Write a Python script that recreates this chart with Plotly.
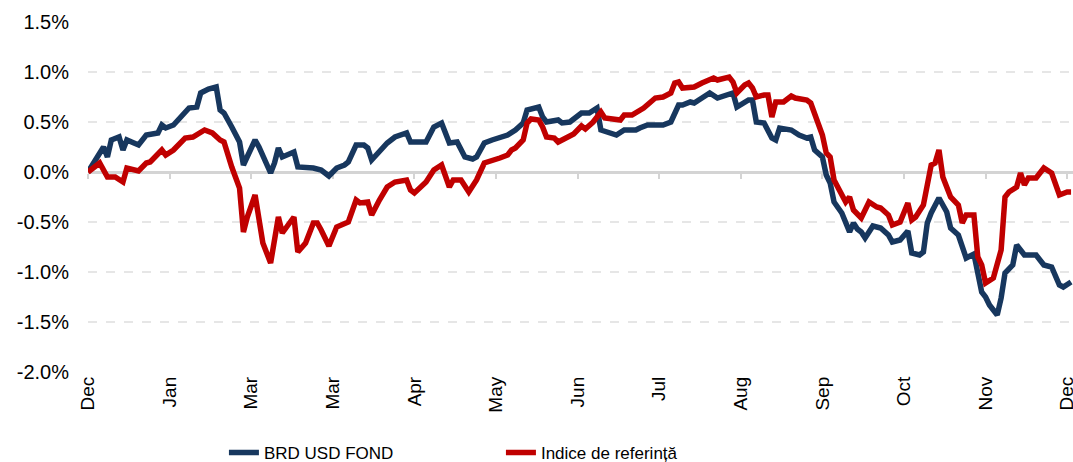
import plotly.graph_objects as go

# Tick labels (one every 21 trading days)
tick_labels = ["Dec", "Jan", "Mar", "Mar", "Apr", "May", "Jun", "Jul", "Aug", "Sep", "Oct", "Nov", "Dec"]
tick_step = 21

# BRD USD FOND (cumulative return, %), sampled by trading-day index
fund_days = [0, 4, 5, 6, 8, 9, 10, 13, 15, 18, 19, 20, 22, 25, 26, 28, 29, 31, 33, 34, 35, 37, 39, 40, 41,
             43, 44, 46, 47, 48, 49, 50, 53, 54, 58, 60, 62, 64, 66, 67, 69, 71, 72, 73, 75, 77, 79, 82, 83,
             87, 89, 91, 93, 95, 97, 99, 100, 102, 104, 106, 108, 110, 112, 113, 116, 117, 118, 121, 122,
             124, 126, 127, 129, 131, 132, 134, 136, 138, 141, 142, 144, 148, 150, 152, 153, 155, 156, 158,
             160, 162, 166, 167, 170, 171, 172, 174, 176, 177, 178, 181, 183, 185, 186, 187, 188, 189, 190,
             191, 192, 194, 196, 197, 198, 199, 200, 202, 204, 206, 207, 209, 211, 212, 214, 215, 216, 217,
             219, 221, 222, 224, 226, 228, 230, 231, 232, 234, 235, 236, 238, 239, 241, 244, 246, 248, 250,
             251, 253]
fund_vals = [0.00, 0.25, 0.15, 0.32, 0.35, 0.22, 0.32, 0.27, 0.37, 0.39, 0.47, 0.44, 0.47, 0.59, 0.64, 0.65,
             0.79, 0.83, 0.85, 0.62, 0.59, 0.45, 0.30, 0.07, 0.15, 0.32, 0.25, 0.09, -0.01, 0.09, 0.24, 0.15,
             0.20, 0.05, 0.04, 0.02, -0.04, 0.04, 0.07, 0.10, 0.27, 0.27, 0.24, 0.12, 0.20, 0.29, 0.35, 0.39,
             0.30, 0.30, 0.45, 0.49, 0.29, 0.30, 0.15, 0.13, 0.15, 0.29, 0.32, 0.34, 0.37, 0.42, 0.49, 0.62,
             0.65, 0.55, 0.50, 0.52, 0.49, 0.50, 0.55, 0.59, 0.59, 0.64, 0.42, 0.39, 0.37, 0.42, 0.42, 0.44,
             0.47, 0.47, 0.50, 0.67, 0.67, 0.70, 0.69, 0.74, 0.79, 0.74, 0.79, 0.65, 0.72, 0.72, 0.50, 0.49,
             0.34, 0.32, 0.44, 0.42, 0.37, 0.34, 0.35, 0.22, 0.19, 0.15, -0.03, -0.11, -0.30, -0.41, -0.60,
             -0.51, -0.57, -0.60, -0.66, -0.54, -0.56, -0.63, -0.70, -0.68, -0.59, -0.81, -0.83, -0.80, -0.51,
             -0.41, -0.26, -0.40, -0.56, -0.63, -0.86, -0.82, -1.20, -1.25, -1.33, -1.43, -1.26, -1.01, -0.93,
             -0.73, -0.83, -0.83, -0.93, -0.95, -1.13, -1.15, -1.10]

# Indice de referință (cumulative return, %)
bench_days = [0, 3, 5, 7, 9, 10, 13, 15, 16, 19, 20, 22, 25, 27, 30, 32, 34, 35, 37, 39, 40, 41, 43, 44, 45,
              47, 48, 49, 50, 53, 54, 56, 58, 59, 60, 62, 64, 67, 69, 70, 72, 73, 75, 77, 79, 82, 83, 84, 87,
              89, 91, 93, 94, 96, 98, 99, 100, 102, 103, 106, 108, 109, 110, 112, 113, 114, 116, 117, 118,
              120, 121, 123, 124, 125, 127, 128, 130, 132, 133, 136, 137, 138, 140, 143, 144, 146, 148, 150,
              151, 152, 153, 155, 156, 158, 161, 162, 165, 166, 167, 169, 170, 171, 172, 174, 175, 176, 177,
              179, 181, 182, 185, 186, 188, 189, 190, 191, 192, 194, 195, 196, 197, 199, 201, 203, 204, 206,
              207, 209, 211, 212, 213, 215, 217, 218, 219, 220, 222, 224, 225, 226, 228, 229, 230, 231, 233,
              235, 236, 237, 239, 240, 241, 242, 244, 246, 248, 250, 252, 253]
bench_vals = [0.00, 0.09, -0.05, -0.05, -0.10, 0.04, 0.01, 0.09, 0.10, 0.22, 0.17, 0.22, 0.34, 0.35, 0.42,
              0.39, 0.32, 0.30, 0.05, -0.16, -0.60, -0.45, -0.23, -0.45, -0.71, -0.91, -0.71, -0.45, -0.61,
              -0.45, -0.80, -0.71, -0.51, -0.51, -0.58, -0.74, -0.55, -0.50, -0.28, -0.31, -0.30, -0.43,
              -0.28, -0.15, -0.10, -0.08, -0.18, -0.21, -0.10, 0.02, 0.07, -0.15, -0.08, -0.08, -0.20, -0.13,
              -0.08, 0.09, 0.10, 0.14, 0.17, 0.22, 0.24, 0.32, 0.49, 0.53, 0.52, 0.45, 0.35, 0.34, 0.30, 0.34,
              0.35, 0.38, 0.46, 0.43, 0.50, 0.60, 0.54, 0.52, 0.52, 0.57, 0.57, 0.64, 0.67, 0.74, 0.75, 0.79,
              0.89, 0.90, 0.84, 0.85, 0.85, 0.89, 0.94, 0.92, 0.95, 0.90, 0.79, 0.87, 0.89, 0.84, 0.75, 0.77,
              0.77, 0.55, 0.70, 0.70, 0.76, 0.74, 0.72, 0.69, 0.47, 0.37, 0.19, 0.15, -0.08, -0.21, -0.30,
              -0.25, -0.38, -0.46, -0.30, -0.35, -0.36, -0.43, -0.53, -0.50, -0.31, -0.48, -0.45, -0.33, 0.07,
              0.09, 0.22, -0.05, -0.25, -0.33, -0.51, -0.43, -0.43, -0.85, -0.93, -1.11, -1.06, -0.78, -0.25,
              -0.20, -0.15, -0.01, -0.13, -0.06, -0.06, 0.04, -0.01, -0.23, -0.20, -0.20]

y_ticks = [-2.0, -1.5, -1.0, -0.5, 0.0, 0.5, 1.0, 1.5]

BLUE = "#17375E"
RED = "#C00000"

tick_vals = [i * tick_step for i in range(len(tick_labels))]
x_range = [0, 253.5]
y_range = [-2.0, 1.5]

fig = go.Figure()
fig.add_trace(go.Scatter(x=fund_days, y=fund_vals, mode="lines", name="BRD USD FOND",
                         line=dict(color=BLUE, width=5.5), hoverinfo="skip"))
fig.add_trace(go.Scatter(x=bench_days, y=bench_vals, mode="lines", name="Indice de referință",
                         line=dict(color=RED, width=5.5), hoverinfo="skip"))
# invisible helper trace so the zero-level overlay axis is drawn
fig.add_trace(go.Scatter(x=x_range, y=[None, None], xaxis="x2", showlegend=False, hoverinfo="skip"))

font_family = "Liberation Sans, Arial, sans-serif"

fig.update_layout(
    width=1073, height=462,
    margin=dict(l=88, r=0, t=22, b=90, autoexpand=False),
    paper_bgcolor="white", plot_bgcolor="white",
    showlegend=True,
    legend=dict(orientation="h", x=0.138, xanchor="left", y=-0.231, yanchor="middle",
                font=dict(family="Liberation Sans Narrow, Arial Narrow, Liberation Sans, Arial", size=17, color="#000000"),
                entrywidth=232, entrywidthmode="pixels", bgcolor="rgba(0,0,0,0)"),
    xaxis=dict(range=x_range, tickmode="array", tickvals=tick_vals, ticktext=tick_labels,
               tickangle=-90, showgrid=False, zeroline=False, showline=False, ticks="",
               automargin=False, ticklabeloverflow="allow",
               tickfont=dict(family=font_family, size=19, color="#000000")),
    xaxis2=dict(range=x_range, overlaying="x", anchor="free", position=2.0 / 3.5, side="bottom",
                tickmode="array", tickvals=tick_vals, showticklabels=False, ticks="outside",
                ticklen=5, tickwidth=2, tickcolor="#D4D4D4", showline=True, linecolor="#D4D4D4",
                linewidth=2.5, showgrid=False, zeroline=False, automargin=False, layer="below traces"),
    yaxis=dict(range=y_range, tickmode="array", tickvals=y_ticks,
               ticktext=[f"{v:.1f}%" for v in y_ticks],
               showgrid=True, gridcolor="#E6E6E6", gridwidth=2, griddash="dash",
               zeroline=False, showline=False, ticks="", automargin=False,
               tickfont=dict(family=font_family, size=20, color="#000000"),
               ticklabelstandoff=18),
)

fig.write_html("out.html")
